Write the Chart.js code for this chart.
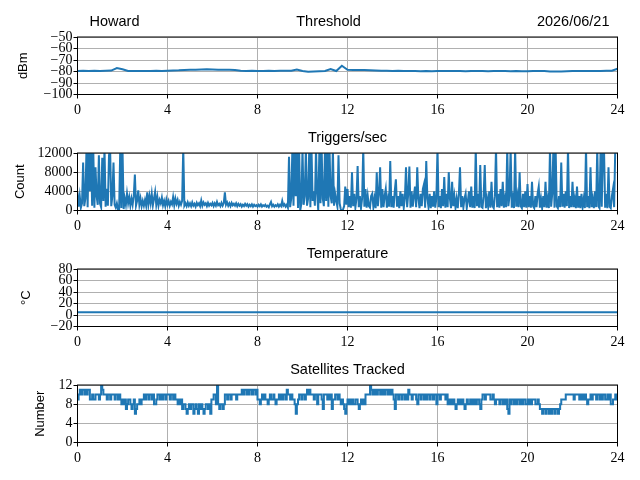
<!DOCTYPE html>
<html>
<head>
<meta charset="utf-8">
<script src="https://cdn.jsdelivr.net/npm/chart.js@4.4.1/dist/chart.umd.min.js"></script>
<style>
  body { margin: 0; background: #fff; width: 640px; height: 480px; position: relative; overflow: hidden; }
  canvas { position: absolute; left: 0; }
</style>
</head>
<body>
<canvas id="threshold" width="640" height="116" style="top:7px"></canvas>
<canvas id="triggers" width="640" height="116" style="top:123px"></canvas>
<canvas id="temperature" width="640" height="116" style="top:239px"></canvas>
<canvas id="satellites" width="640" height="116" style="top:355px"></canvas>
<script>
// header
const station = 'Howard';
const dateText = '2026/06/21';

// x axis (hours of day)
const hourTicks = [0, 4, 8, 12, 16, 20, 24];

// threshold, dBm, every 0.25 h
const thresholdStep = 0.25;
const thresholdValues = [
  -79.5, -79.3, -79.5, -79.4, -79.5, -79.4, -79.2, -77.0, -78.0, -79.5, -79.6, -79.5,
  -79.6, -79.5, -79.4, -79.5, -79.3, -79.2, -79.0, -78.6, -78.5, -78.5, -78.3, -78.0,
  -78.2, -78.4, -78.5, -78.5, -78.6, -79.4, -79.5, -79.4, -79.6, -79.5, -79.4, -79.5,
  -79.4, -79.3, -79.4, -78.2, -79.5, -80.2, -80.0, -79.8, -79.5, -77.8, -79.6, -75.0,
  -78.5, -78.6, -78.8, -78.8, -79.0, -79.2, -79.3, -79.4, -79.5, -79.4, -79.5, -79.6,
  -79.6, -79.7, -79.6, -79.8, -79.6, -79.5, -79.6, -79.5, -79.6, -79.7, -79.6, -79.5,
  -79.6, -79.7, -79.6, -79.5, -79.6, -79.7, -79.6, -79.8, -79.7, -79.6, -79.5, -79.6,
  -80.0, -80.1, -80.0, -79.8, -79.6, -79.5, -79.6, -79.5, -79.6, -79.5, -79.4, -79.3,
  -77.6
];

// triggers per second, every 0.05 h (one row per hour)
const triggerStep = 0.05;
const triggerValues = [
  3800, 800, 3000, 600, 1500, 10000, 900, 2500, 13000, 700, 13000, 4000, 13000, 1000, 13000, 600, 9000, 3000, 1200, 11500,
  1500, 700, 11000, 2000, 13000, 800, 4500, 1000, 11500, 13000, 900, 3000, 10000, 1200, 600, 1500, 200, 0, 13000, 500,
  13000, 300, 2500, 1200, 3500, 1500, 2800, 1000, 2500, 1200, 3000, 7500, 1000, 2000, 4200, 1200, 2500, 900, 2000, 1000,
  2200, 1000, 3800, 1200, 3000, 1500, 3500, 1100, 2500, 3900, 1200, 2800, 1000, 2200, 1500, 2700, 1100, 2000, 900, 2300,
  1200, 2000, 1000, 1800, 1300, 2800, 1100, 2500, 1400, 2200, 1000, 1800, 1200, 2000, 13000, 1000, 1500, 900, 1700, 1000,
  1500, 900, 1700, 1000, 1400, 800, 1600, 1100, 1500, 900, 2100, 1000, 1700, 1200, 1500, 900, 1600, 1000, 1400, 1100,
  1600, 900, 1500, 1000, 1800, 1100, 1400, 900, 1600, 1000, 1500, 3800, 1200, 1700, 1000, 1500, 900, 1600, 1100, 1400,
  1000, 1500, 900, 1400, 1000, 1300, 800, 1200, 900, 1400, 1000, 1300, 800, 1200, 900, 1300, 800, 1200, 900, 1100,
  800, 1200, 900, 1300, 800, 1100, 900, 1200, 800, 1000, 700, 1300, 1800, 900, 1200, 800, 1100, 900, 1300, 800,
  1200, 900, 2000, 1000, 1300, 800, 1200, 600, 11200, 700, 2500, 13000, 1000, 13000, 3000, 13000, 500, 13000, 0, 1500,
  13000, 1200, 3000, 13000, 1000, 2500, 13000, 700, 13000, 2000, 4000, 1000, 13000, 3500, 0, 13000, 1500, 13000, 2500, 900,
  13000, 2000, 13000, 800, 13000, 3000, 1500, 13000, 1000, 3500, 2000, 800, 11500, 1500, 300, 0, 200, 900, 5000, 1200,
  4500, 700, 3000, 600, 8000, 900, 3500, 600, 2500, 9300, 700, 3000, 500, 2500, 13000, 800, 4500, 600, 3000, 900,
  600, 3000, 3500, 700, 2500, 500, 8000, 900, 3500, 9000, 600, 4500, 700, 3000, 4500, 600, 2500, 800, 10300, 700,
  3000, 600, 4000, 6500, 800, 3000, 500, 4000, 900, 3500, 600, 2500, 9000, 700, 3500, 9200, 600, 4000, 800, 3000,
  5000, 700, 9000, 2500, 500, 3500, 900, 4500, 5500, 600, 10300, 2500, 700, 3500, 500, 3000, 800, 4000, 600, 2500,
  13000, 700, 3000, 500, 4500, 900, 7000, 600, 3500, 700, 8000, 2500, 500, 6000, 900, 3000, 600, 2500, 500, 3500,
  9000, 700, 3000, 600, 2500, 3500, 500, 2000, 4000, 700, 5000, 600, 3000, 500, 13000, 900, 3500, 600, 9500, 800,
  600, 3000, 9500, 500, 2500, 800, 4000, 600, 6000, 900, 500, 3000, 13000, 700, 3500, 600, 4500, 900, 6000, 600,
  2500, 700, 13000, 900, 3000, 13000, 600, 2500, 500, 13000, 800, 3000, 700, 8000, 900, 500, 3500, 700, 4000, 600,
  5500, 700, 3000, 600, 6000, 900, 500, 3000, 700, 3500, 5000, 600, 2500, 500, 3000, 700, 6000, 600, 2500, 500,
  13000, 800, 3500, 13000, 600, 13000, 900, 500, 3000, 700, 10000, 800, 3500, 600, 4000, 900, 13000, 500, 3000, 700,
  6000, 700, 2500, 500, 5000, 600, 3000, 500, 3500, 700, 2500, 500, 13000, 700, 3000, 500, 9000, 700, 2500, 500,
  4000, 700, 13000, 900, 500, 13000, 800, 13000, 13000, 600, 3500, 500, 9000, 800, 500, 3000, 4500, 700, 13000, 13000,
  13000
];

// temperature, deg C, hourly
const temperatureStep = 1;
const temperatureValues = [5, 5, 5, 5, 5, 5, 5, 5, 5, 5, 5, 5, 5, 5, 5, 5, 5, 5, 5, 5, 5, 5, 5, 5, 5];

// satellites tracked, every 0.05 h (one row per hour)
const satelliteStep = 0.05;
const satelliteValues = [
  9, 10, 11, 10, 11, 11, 10, 11, 10, 11, 11, 9, 9, 10, 9, 9, 10, 10, 10, 9,
  10, 12, 11, 10, 10, 10, 9, 10, 10, 9, 10, 10, 10, 9, 10, 10, 9, 10, 9, 8,
  9, 8, 9, 7, 8, 9, 9, 8, 7, 8, 9, 6, 7, 8, 8, 9, 8, 9, 9, 10,
  9, 10, 10, 9, 10, 10, 9, 10, 8, 8, 9, 10, 10, 9, 10, 9, 10, 10, 9, 10,
  10, 10, 9, 10, 10, 9, 10, 9, 9, 8, 9, 8, 9, 7, 8, 8, 7, 6, 7, 8,
  7, 8, 8, 6, 7, 8, 7, 6, 8, 7, 8, 7, 6, 7, 8, 8, 7, 8, 6, 9,
  9, 10, 10, 8, 12, 8, 7, 8, 8, 7, 8, 10, 10, 9, 10, 10, 9, 10, 10, 10,
  10, 9, 10, 10, 10, 10, 11, 10, 11, 11, 10, 11, 10, 11, 11, 10, 11, 11, 10, 11,
  9, 9, 8, 9, 10, 9, 10, 9, 9, 8, 9, 10, 9, 9, 10, 9, 8, 9, 9, 10,
  9, 10, 9, 10, 10, 9, 11, 10, 10, 9, 10, 9, 9, 8, 6, 8, 9, 10, 10, 9,
  10, 10, 9, 10, 11, 10, 11, 10, 10, 10, 9, 10, 10, 8, 10, 10, 10, 9, 7, 10,
  10, 10, 9, 10, 9, 10, 7, 9, 9, 10, 10, 9, 10, 9, 8, 9, 8, 7, 6, 8,
  9, 8, 9, 8, 9, 8, 8, 9, 9, 8, 7, 8, 9, 8, 9, 8, 10, 10, 10, 10,
  12, 11, 10, 11, 10, 11, 10, 11, 11, 10, 11, 10, 11, 10, 11, 11, 10, 11, 10, 11,
  10, 9, 7, 10, 10, 9, 10, 10, 9, 10, 10, 9, 10, 9, 11, 10, 10, 9, 10, 10,
  10, 9, 8, 10, 10, 9, 10, 10, 9, 10, 9, 10, 10, 9, 10, 10, 9, 10, 10, 8,
  10, 10, 9, 10, 10, 10, 10, 9, 10, 8, 9, 8, 9, 8, 9, 8, 7, 8, 9, 8,
  9, 8, 9, 8, 7, 8, 9, 8, 8, 9, 8, 9, 8, 9, 8, 9, 9, 8, 7, 9,
  10, 10, 9, 10, 10, 10, 10, 9, 9, 10, 9, 8, 9, 9, 9, 8, 9, 9, 8, 9,
  8, 9, 7, 6, 9, 8, 9, 9, 8, 9, 8, 9, 9, 8, 9, 8, 9, 9, 8, 8,
  9, 8, 9, 8, 9, 9, 9, 8, 8, 9, 8, 7, 7, 6, 7, 7, 6, 7, 7, 6,
  7, 6, 7, 7, 6, 7, 7, 6, 7, 8, 9, 9, 9, 9, 10, 10, 10, 10, 10, 10,
  10, 9, 10, 10, 10, 10, 9, 10, 9, 10, 9, 10, 9, 8, 9, 9, 10, 9, 10, 10,
  10, 9, 10, 10, 9, 10, 9, 10, 10, 9, 9, 10, 9, 10, 8, 8, 9, 9, 10, 9,
  10
];

const LINE = '#1f77b4';
const GRID = '#b0b0b0';
const SERIF = "'Liberation Serif', 'DejaVu Serif', serif";
const SANS = "'Liberation Sans', 'DejaVu Sans', sans-serif";

const toPoints = (values, step) => values.map((v, i) => ({ x: +(i * step).toFixed(2), y: v }));
const tickText = v => (v < 0 ? '\u2212' + Math.abs(v) : String(v));

// black box round the plot, like matplotlib spines
const frame = {
  id: 'frame',
  afterDraw(chart) {
    const { ctx, chartArea: a } = chart;
    ctx.save();
    ctx.strokeStyle = '#000';
    ctx.lineWidth = 1;
    ctx.strokeRect(a.left, a.top, a.right - a.left, a.bottom - a.top);
    ctx.restore();
  }
};

// top row: station left, title middle, date right
const header = {
  id: 'header',
  afterDraw(chart) {
    const { ctx, chartArea: a } = chart;
    const y = a.top - 15;
    ctx.save();
    ctx.fillStyle = '#000';
    ctx.font = '14.5px ' + SANS;
    ctx.textBaseline = 'middle';
    ctx.textAlign = 'left';
    ctx.fillText(station, a.left + 12, y);
    ctx.textAlign = 'center';
    ctx.fillText('Threshold', a.left + 251, y);
    ctx.textAlign = 'right';
    ctx.fillText(dateText, a.right - 8, y);
    ctx.restore();
  }
};

function makeChart(id, opts) {
  return new Chart(document.getElementById(id), {
    type: 'line',
    data: {
      datasets: [{
        data: toPoints(opts.values, opts.step),
        borderColor: LINE,
        borderWidth: opts.width || 2,
        pointRadius: 0,
        tension: 0,
        stepped: opts.stepped || false,
        clip: 0
      }]
    },
    options: {
      responsive: false,
      animation: false,
      layout: { padding: { left: 0, right: 22.5, top: opts.title ? 0 : 30, bottom: 0 } },
      plugins: {
        legend: { display: false },
        tooltip: { enabled: false },
        title: {
          display: !!opts.title,
          text: opts.title,
          fullSize: false,
          color: '#000',
          font: { family: SANS, size: 14.5, weight: 'normal', lineHeight: 1.2 },
          padding: { top: 6.6, bottom: 6 }
        }
      },
      scales: {
        x: {
          type: 'linear',
          min: 0,
          max: 24,
          afterFit: s => { s.height = 28.5; },
          afterBuildTicks: s => { s.ticks = hourTicks.map(v => ({ value: v })); },
          ticks: { color: '#000', font: { family: SERIF, size: 14 }, padding: 3, maxRotation: 0, autoSkip: false, callback: tickText },
          grid: { color: GRID, lineWidth: 1, tickLength: 4, tickColor: '#000', tickWidth: 1 },
          border: { display: false }
        },
        y: {
          min: opts.min,
          max: opts.max,
          afterFit: s => { s.width = 77.5; },
          afterBuildTicks: s => { s.ticks = opts.ticks.map(v => ({ value: v })); },
          ticks: { color: '#000', font: { family: SERIF, size: 14 }, padding: 1, autoSkip: false, callback: tickText },
          grid: { color: GRID, lineWidth: 1, tickLength: 4, tickColor: '#000', tickWidth: 1 },
          border: { display: false },
          title: {
            display: true,
            text: opts.yTitle,
            color: '#000',
            font: { family: SANS, size: 13, lineHeight: 1.2 },
            padding: { top: opts.yTitlePad, bottom: 0 }
          }
        }
      }
    },
    plugins: opts.title ? [frame] : [frame, header]
  });
}

makeChart('threshold', {
  values: thresholdValues, step: thresholdStep,
  min: -100, max: -50, ticks: [-100, -90, -80, -70, -60, -50],
  yTitle: 'dBm', yTitlePad: 16
});
makeChart('triggers', {
  values: triggerValues, step: triggerStep, title: 'Triggers/sec',
  min: 0, max: 12000, ticks: [0, 4000, 8000, 12000],
  yTitle: 'Count', yTitlePad: 13
});
makeChart('temperature', {
  values: temperatureValues, step: temperatureStep, title: 'Temperature',
  min: -20, max: 80, ticks: [-20, 0, 20, 40, 60, 80],
  yTitle: '\u00b0C', yTitlePad: 19
});
makeChart('satellites', {
  values: satelliteValues, step: satelliteStep, title: 'Satellites Tracked', stepped: true,
  min: 0, max: 12, ticks: [0, 4, 8, 12],
  yTitle: 'Number', yTitlePad: 33
});
</script>
</body>
</html>
